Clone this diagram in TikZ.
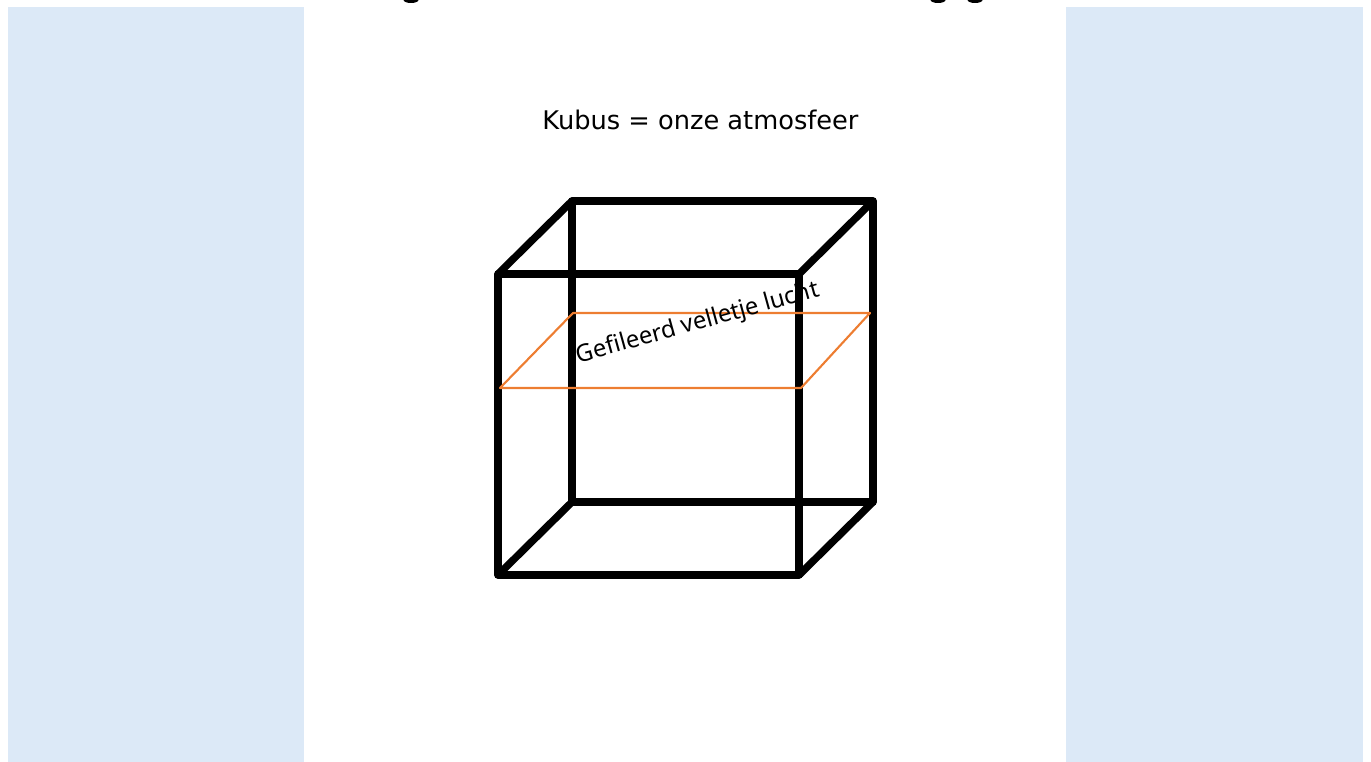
\documentclass[tikz,border=0pt]{standalone}
\usepackage{fontspec}
\setmainfont{DejaVu Sans}
\newfontfamily\labelfont{Noto Sans}
\definecolor{mypanel}{HTML}{DCE9F7}
\definecolor{myorange}{HTML}{ED7D31}
\begin{document}
\begin{tikzpicture}[x=0.01cm,y=-0.01cm,line join=round]
  \useasboundingbox (0,0) rectangle (1371,762);
  \clip (0,0) rectangle (1371,762);
  \fill[mypanel] (8,7) rectangle (304,762);
  \fill[mypanel] (1066,7) rectangle (1363,762);
  \foreach \tx in {411,938,975} {
    \fill (\tx,0) ellipse [x radius=7.5,y radius=3];}
  \node[font=\fontsize{7.3}{9}\selectfont] (title) at (700.5,120) {Kubus = onze atmosfeer};
  \foreach \tn/\tx/\ty in {fa/498/274,fb/799/274,fc/799/575,fd/498/575,ba/572/201,bb/873/201,bc/873/502,bd/572/502}
    \coordinate (\tn) at (\tx,\ty);
  \draw[line width=2.1pt] (fa) -- (fb) -- (fc) -- (fd) -- cycle;
  \draw[line width=2.1pt] (ba) -- (bb) -- (bc) -- (bd) -- cycle;
  \draw[line width=2.1pt] (fa) -- (ba);
  \draw[line width=2.1pt] (fb) -- (bb);
  \draw[line width=2.1pt] (fc) -- (bc);
  \draw[line width=2.1pt] (fd) -- (bd);
  \foreach \tn/\tx/\ty in {sa/500/388,sb/801/388,sc/870/313,sd/573/313}
    \coordinate (\tn) at (\tx,\ty);
  \draw[myorange,line width=0.6pt] (sa) -- (sb) -- (sc) -- (sd) -- cycle;
  \node[font=\labelfont\fontsize{6.8}{9}\selectfont,rotate=15.5] (sheet) at (698,323.5) {Gefileerd velletje lucht};
\end{tikzpicture}
\end{document}
